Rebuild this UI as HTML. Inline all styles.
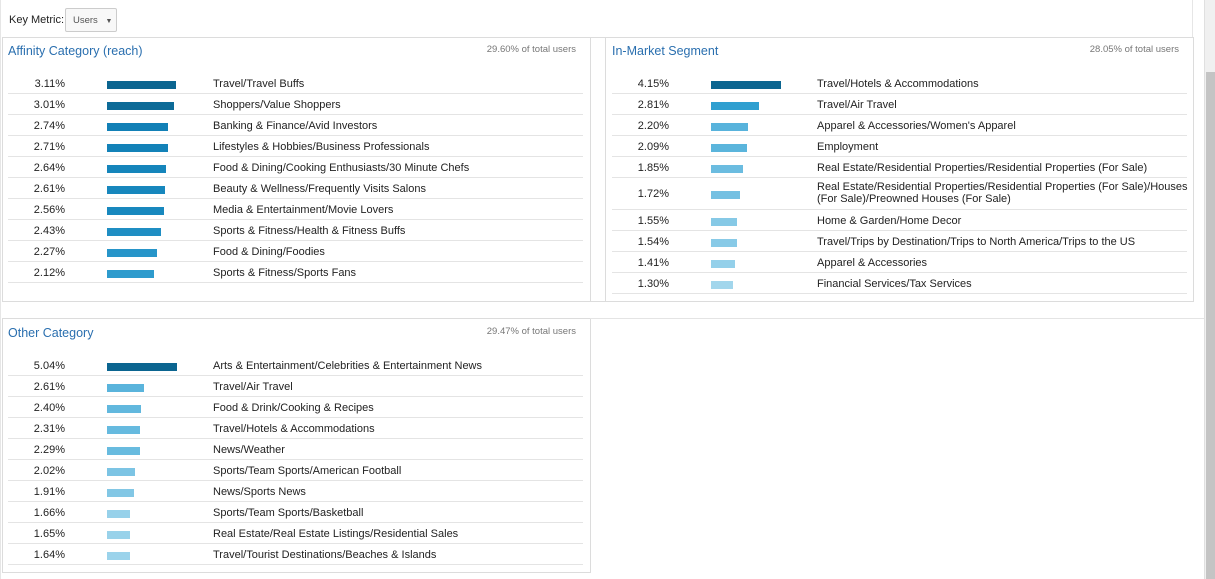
<!DOCTYPE html>
<html><head><meta charset="utf-8"><style>
*{margin:0;padding:0;box-sizing:border-box}
body{width:1215px;height:579px;background:#fff;font-family:"Liberation Sans",sans-serif;position:relative;overflow:hidden;color:#222}
.a{position:absolute}
.panel{position:absolute;border:1px solid #dcdcdc;background:#fff}
.t{position:absolute;font-size:12.5px;color:#2a6faf}
.s{position:absolute;font-size:9.5px;color:#777;text-align:right}
.r{position:absolute;height:21px;border-bottom:1px solid #e4e4e4;font-size:11px}
.r .p{position:absolute;top:5px;text-align:right;width:40px}
.r .b{position:absolute;top:8px;height:8px}
.r .l{position:absolute;top:5px;white-space:nowrap;line-height:12px}
</style></head><body>
<div class="a" style="left:9px;top:14px;font-size:11px">Key Metric:</div>
<div class="a" style="left:65px;top:8px;width:52px;height:24px;border:1px solid #ccc;border-radius:2px;background:#f8f8f8;font-size:9.5px;color:#555;padding:6px 0 0 7px">Users <span style="font-size:7px;margin-left:5px">▼</span></div>
<div class="a" style="left:0;top:0;width:1px;height:579px;background:#e6e6e6"></div>
<div class="a" style="left:1192px;top:0;width:1px;height:37px;background:#e6e6e6"></div>
<div class="a" style="left:1204px;top:0;width:11px;height:579px;background:#f0f0f0;border-left:1px solid #e0e0e0"></div>
<div class="a" style="left:1206px;top:72px;width:9px;height:507px;background:#c4c4c4"></div>

<div class="panel" style="left:2px;top:37px;width:589px;height:265px"></div>
<div class="panel" style="left:590px;top:37px;width:16px;height:265px"></div>
<div class="panel" style="left:605px;top:37px;width:589px;height:265px"></div>
<div class="panel" style="left:2px;top:318px;width:589px;height:255px"></div>
<div class="a" style="left:590px;top:318px;width:614px;height:1px;background:#e4e4e4"></div>

<div class="t" style="left:8px;top:44px">Affinity Category (reach)</div>
<div class="s" style="left:400px;width:176px;top:44px">29.60% of total users</div>
<div class="t" style="left:612px;top:44px">In-Market Segment</div>
<div class="s" style="left:1003px;width:176px;top:44px">28.05% of total users</div>
<div class="t" style="left:8px;top:326px">Other Category</div>
<div class="s" style="left:400px;width:176px;top:326px">29.47% of total users</div>

<!-- Left -->
<div class="a" style="left:8px;top:73px;width:575px">
<div class="r" style="top:0;width:575px"><span class="p" style="left:17px">3.11%</span><span class="b" style="left:99px;width:69px;background:#0b6590"></span><span class="l" style="left:205px">Travel/Travel Buffs</span></div>
<div class="r" style="top:21px;width:575px"><span class="p" style="left:17px">3.01%</span><span class="b" style="left:99px;width:67px;background:#0d6b98"></span><span class="l" style="left:205px">Shoppers/Value Shoppers</span></div>
<div class="r" style="top:42px;width:575px"><span class="p" style="left:17px">2.74%</span><span class="b" style="left:99px;width:61px;background:#1280b6"></span><span class="l" style="left:205px">Banking &amp; Finance/Avid Investors</span></div>
<div class="r" style="top:63px;width:575px"><span class="p" style="left:17px">2.71%</span><span class="b" style="left:99px;width:61px;background:#1382b8"></span><span class="l" style="left:205px">Lifestyles &amp; Hobbies/Business Professionals</span></div>
<div class="r" style="top:84px;width:575px"><span class="p" style="left:17px">2.64%</span><span class="b" style="left:99px;width:59px;background:#1585bb"></span><span class="l" style="left:205px">Food &amp; Dining/Cooking Enthusiasts/30 Minute Chefs</span></div>
<div class="r" style="top:105px;width:575px"><span class="p" style="left:17px">2.61%</span><span class="b" style="left:99px;width:58px;background:#1787bd"></span><span class="l" style="left:205px">Beauty &amp; Wellness/Frequently Visits Salons</span></div>
<div class="r" style="top:126px;width:575px"><span class="p" style="left:17px">2.56%</span><span class="b" style="left:99px;width:57px;background:#1888be"></span><span class="l" style="left:205px">Media &amp; Entertainment/Movie Lovers</span></div>
<div class="r" style="top:147px;width:575px"><span class="p" style="left:17px">2.43%</span><span class="b" style="left:99px;width:54px;background:#1f8ec3"></span><span class="l" style="left:205px">Sports &amp; Fitness/Health &amp; Fitness Buffs</span></div>
<div class="r" style="top:168px;width:575px"><span class="p" style="left:17px">2.27%</span><span class="b" style="left:99px;width:50px;background:#2795c9"></span><span class="l" style="left:205px">Food &amp; Dining/Foodies</span></div>
<div class="r" style="top:189px;width:575px"><span class="p" style="left:17px">2.12%</span><span class="b" style="left:99px;width:47px;background:#2e9bcd"></span><span class="l" style="left:205px">Sports &amp; Fitness/Sports Fans</span></div>
</div>

<!-- Right -->
<div class="a" style="left:612px;top:73px;width:575px">
<div class="r" style="top:0;width:575px"><span class="p" style="left:17px">4.15%</span><span class="b" style="left:99px;width:70px;background:#0b6590"></span><span class="l" style="left:205px">Travel/Hotels &amp; Accommodations</span></div>
<div class="r" style="top:21px;width:575px"><span class="p" style="left:17px">2.81%</span><span class="b" style="left:99px;width:48px;background:#2f9fd0"></span><span class="l" style="left:205px">Travel/Air Travel</span></div>
<div class="r" style="top:42px;width:575px"><span class="p" style="left:17px">2.20%</span><span class="b" style="left:99px;width:37px;background:#58b3dc"></span><span class="l" style="left:205px">Apparel &amp; Accessories/Women's Apparel</span></div>
<div class="r" style="top:63px;width:575px"><span class="p" style="left:17px">2.09%</span><span class="b" style="left:99px;width:36px;background:#5bb5dc"></span><span class="l" style="left:205px">Employment</span></div>
<div class="r" style="top:84px;width:575px"><span class="p" style="left:17px">1.85%</span><span class="b" style="left:99px;width:32px;background:#6bbce0"></span><span class="l" style="left:205px">Real Estate/Residential Properties/Residential Properties (For Sale)</span></div>
<div class="r" style="top:105px;width:575px;height:32px"><span class="p" style="left:17px;top:10px">1.72%</span><span class="b" style="left:99px;top:13px;width:29px;background:#74c0e2"></span><span class="l" style="left:205px;top:3px">Real Estate/Residential Properties/Residential Properties (For Sale)/Houses<br>(For Sale)/Preowned Houses (For Sale)</span></div>
<div class="r" style="top:137px;width:575px"><span class="p" style="left:17px">1.55%</span><span class="b" style="left:99px;width:26px;background:#86c9e6"></span><span class="l" style="left:205px">Home &amp; Garden/Home Decor</span></div>
<div class="r" style="top:158px;width:575px"><span class="p" style="left:17px">1.54%</span><span class="b" style="left:99px;width:26px;background:#88cae7"></span><span class="l" style="left:205px">Travel/Trips by Destination/Trips to North America/Trips to the US</span></div>
<div class="r" style="top:179px;width:575px"><span class="p" style="left:17px">1.41%</span><span class="b" style="left:99px;width:24px;background:#94d0ea"></span><span class="l" style="left:205px">Apparel &amp; Accessories</span></div>
<div class="r" style="top:200px;width:575px"><span class="p" style="left:17px">1.30%</span><span class="b" style="left:99px;width:22px;background:#a2d6ec"></span><span class="l" style="left:205px">Financial Services/Tax Services</span></div>
</div>

<!-- Bottom -->
<div class="a" style="left:8px;top:355px;width:575px">
<div class="r" style="top:0;width:575px"><span class="p" style="left:17px">5.04%</span><span class="b" style="left:99px;width:70px;background:#0b6590"></span><span class="l" style="left:205px">Arts &amp; Entertainment/Celebrities &amp; Entertainment News</span></div>
<div class="r" style="top:21px;width:575px"><span class="p" style="left:17px">2.61%</span><span class="b" style="left:99px;width:37px;background:#5ab4dc"></span><span class="l" style="left:205px">Travel/Air Travel</span></div>
<div class="r" style="top:42px;width:575px"><span class="p" style="left:17px">2.40%</span><span class="b" style="left:99px;width:34px;background:#62b8de"></span><span class="l" style="left:205px">Food &amp; Drink/Cooking &amp; Recipes</span></div>
<div class="r" style="top:63px;width:575px"><span class="p" style="left:17px">2.31%</span><span class="b" style="left:99px;width:33px;background:#66badf"></span><span class="l" style="left:205px">Travel/Hotels &amp; Accommodations</span></div>
<div class="r" style="top:84px;width:575px"><span class="p" style="left:17px">2.29%</span><span class="b" style="left:99px;width:33px;background:#68bbdf"></span><span class="l" style="left:205px">News/Weather</span></div>
<div class="r" style="top:105px;width:575px"><span class="p" style="left:17px">2.02%</span><span class="b" style="left:99px;width:28px;background:#7cc4e4"></span><span class="l" style="left:205px">Sports/Team Sports/American Football</span></div>
<div class="r" style="top:126px;width:575px"><span class="p" style="left:17px">1.91%</span><span class="b" style="left:99px;width:27px;background:#82c7e5"></span><span class="l" style="left:205px">News/Sports News</span></div>
<div class="r" style="top:147px;width:575px"><span class="p" style="left:17px">1.66%</span><span class="b" style="left:99px;width:23px;background:#97d1ea"></span><span class="l" style="left:205px">Sports/Team Sports/Basketball</span></div>
<div class="r" style="top:168px;width:575px"><span class="p" style="left:17px">1.65%</span><span class="b" style="left:99px;width:23px;background:#99d2ea"></span><span class="l" style="left:205px">Real Estate/Real Estate Listings/Residential Sales</span></div>
<div class="r" style="top:189px;width:575px"><span class="p" style="left:17px">1.64%</span><span class="b" style="left:99px;width:23px;background:#9bd3eb"></span><span class="l" style="left:205px">Travel/Tourist Destinations/Beaches &amp; Islands</span></div>
</div>
</body></html>
